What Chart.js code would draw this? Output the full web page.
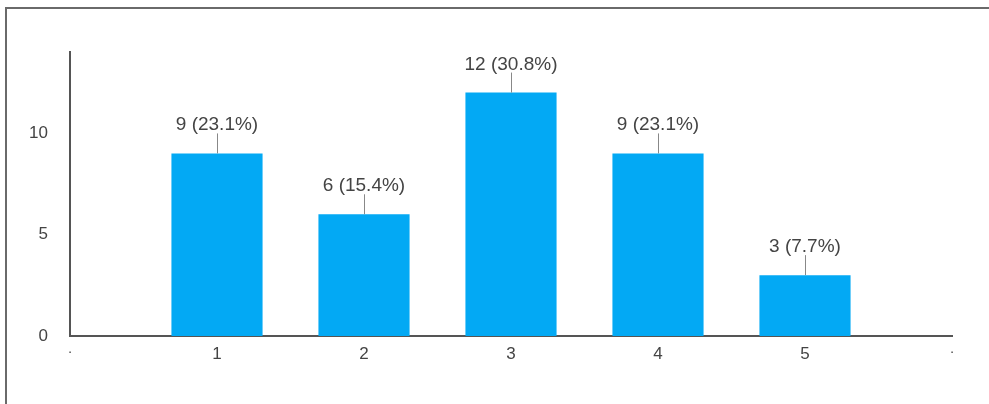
<!DOCTYPE html>
<html>
<head>
<meta charset="utf-8">
<script src="https://cdn.jsdelivr.net/npm/chart.js@4/dist/chart.umd.min.js"></script>
<style>
html,body{margin:0;padding:0;background:#fff;overflow:hidden}
#wrap{position:absolute;left:0;top:0;width:989px;height:404px}
#frame{position:absolute;left:5px;top:7px;width:1000px;height:420px;border-left:2px solid #6a6a6a;border-top:2px solid #6a6a6a;box-sizing:border-box}
canvas{position:absolute;left:0;top:0}
</style>
</head>
<body>
<div id="wrap">
<div id="frame"></div>
<canvas id="c" width="989" height="404"></canvas>
</div>
<script>
// answer categories (edge slots are empty padding categories)
var cats   = ['\u00b7', '1', '2', '3', '4', '5', '\u00b7'];
var counts = [null, 9, 6, 12, 9, 3, null];
var yTicks = [0, 5, 10];

var PAL = { bar:'#03a9f4', axis:'#555', text:'#444', lead:'#888' };
var FONT = "'Liberation Sans', Arial, sans-serif";

var total = counts.reduce(function(a,v){return a+(v||0)},0);

// value labels with a short leader line above each bar
var barLabels = {
  id:'barLabels',
  afterDatasetsDraw:function(chart){
    var ctx=chart.ctx, meta=chart.getDatasetMeta(0);
    ctx.save();
    ctx.font='19px '+FONT; ctx.textAlign='center'; ctx.textBaseline='alphabetic';
    meta.data.forEach(function(el,i){
      var v=counts[i]; if(v==null)return;
      var x=el.x, top=el.y;
      ctx.beginPath(); ctx.moveTo(x+0.5,top); ctx.lineTo(x+0.5,top-20);
      ctx.lineWidth=1; ctx.strokeStyle=PAL.lead; ctx.stroke();
      ctx.fillStyle=PAL.text;
      ctx.fillText(v+' ('+(v/total*100).toFixed(1)+'%)', x, top-23);
    });
    ctx.restore();
  }
};

new Chart(document.getElementById('c').getContext('2d'),{
  type:'bar',
  data:{labels:cats,datasets:[{data:counts,backgroundColor:PAL.bar,borderWidth:0,barPercentage:0.62,categoryPercentage:1}]},
  options:{
    responsive:false,animation:false,
    layout:{padding:{left:0,top:52,right:37,bottom:0}},
    plugins:{legend:{display:false},tooltip:{enabled:false}},
    scales:{
      x:{offset:false,
        grid:{display:false,drawTicks:false},
        border:{display:true,color:PAL.axis,width:2},
        ticks:{padding:8,color:PAL.text,maxRotation:0,autoSkip:false,
          font:function(c){return{family:FONT,size:(c.index===0||c.index===6)?14:17}}},
        afterFit:function(s){s.height=68}},
      y:{min:0,max:14,
        grid:{display:false,drawTicks:false},
        border:{display:true,color:PAL.axis,width:2},
        ticks:{stepSize:5,includeBounds:false,padding:22,color:PAL.text,font:{family:FONT,size:17},
          callback:function(v){return yTicks.indexOf(v)>=0?v:''}},
        afterFit:function(s){s.width=70}}
    }
  },
  plugins:[barLabels]
});
</script>
</body>
</html>
